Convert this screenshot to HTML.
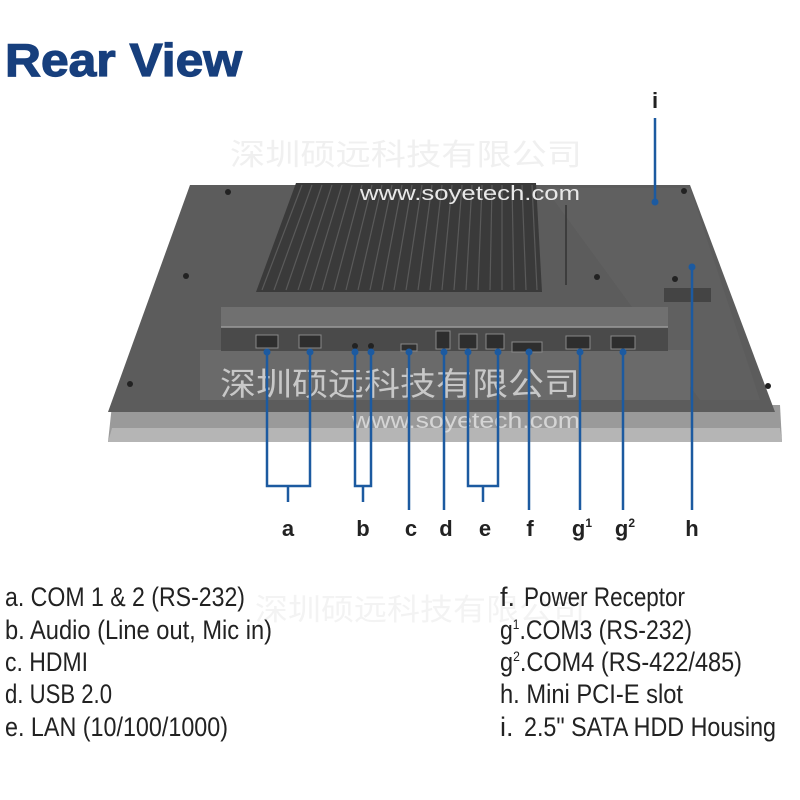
<!DOCTYPE html>
<html><head><meta charset="utf-8"><style>
html,body{margin:0;padding:0;background:#fff;width:800px;height:800px;overflow:hidden}
svg{display:block}
</style></head><body>
<svg width="800" height="800" viewBox="0 0 800 800" xmlns="http://www.w3.org/2000/svg" font-family="Liberation Sans, sans-serif">
<rect width="800" height="800" fill="#fff"/>
<text x="5" y="76" font-size="46" font-weight="bold" fill="#173f7d" stroke="#173f7d" stroke-width="1.2" textLength="237" lengthAdjust="spacingAndGlyphs">Rear View</text>

<!-- bezel -->
<polygon points="112,405 780,405 782,442 108,442" fill="#9a9a9a"/>
<polygon points="112,428 780,428 782,442 108,442" fill="#b5b5b5"/>
<!-- device body -->
<polygon points="190,185 690,185 775,412 108,412" fill="#5c5c5c"/>
<polygon points="545,188 690,188 760,400 700,400" fill="#606060"/>
<!-- heatsink -->
<polygon points="296,183 536,183 542,292 256,292" fill="#3a3a3a"/>
<g stroke="#5a5a5a" stroke-width="1.2">
<line x1="302" y1="185" x2="262" y2="290"/><line x1="312" y1="185" x2="274" y2="290"/><line x1="322" y1="185" x2="286" y2="290"/><line x1="332" y1="185" x2="298" y2="290"/><line x1="342" y1="185" x2="310" y2="290"/><line x1="352" y1="185" x2="322" y2="290"/><line x1="362" y1="185" x2="334" y2="290"/><line x1="372" y1="185" x2="346" y2="290"/><line x1="382" y1="185" x2="358" y2="290"/><line x1="392" y1="185" x2="370" y2="290"/><line x1="402" y1="185" x2="382" y2="290"/><line x1="412" y1="185" x2="394" y2="290"/><line x1="422" y1="185" x2="406" y2="290"/><line x1="432" y1="185" x2="418" y2="290"/><line x1="442" y1="185" x2="430" y2="290"/><line x1="452" y1="185" x2="442" y2="290"/><line x1="462" y1="185" x2="454" y2="290"/><line x1="472" y1="185" x2="466" y2="290"/><line x1="482" y1="185" x2="478" y2="290"/><line x1="492" y1="185" x2="490" y2="290"/><line x1="502" y1="185" x2="502" y2="290"/><line x1="512" y1="185" x2="514" y2="290"/><line x1="522" y1="185" x2="526" y2="290"/><line x1="532" y1="185" x2="537" y2="290"/>
</g>
<line x1="566" y1="205" x2="566" y2="285" stroke="#333" stroke-width="1.5"/>
<!-- lower recess -->
<polygon points="200,350 690,350 690,400 200,400" fill="#6a6a6a"/>
<!-- port panel -->
<rect x="221" y="307" width="447" height="20" fill="#707070"/>
<rect x="221" y="327" width="447" height="24" fill="#4a4a4a"/>
<line x1="221" y1="327" x2="668" y2="327" stroke="#999" stroke-width="1.5"/>
<g fill="#2e2e2e" stroke="#888" stroke-width="1">
<rect x="256" y="335" width="22" height="13"/><rect x="299" y="335" width="22" height="13"/>
<rect x="401" y="344" width="16" height="7"/>
<rect x="436" y="331" width="14" height="18"/>
<rect x="459" y="334" width="18" height="15"/><rect x="486" y="334" width="18" height="15"/>
<rect x="512" y="342" width="30" height="10"/>
<rect x="566" y="336" width="24" height="13"/><rect x="611" y="336" width="24" height="13"/>
</g>
<circle cx="355" cy="346" r="3" fill="#222"/><circle cx="371" cy="346" r="3" fill="#222"/>
<rect x="664" y="288" width="47" height="14" fill="#444"/>
<g fill="#222"><circle cx="228" cy="192" r="3"/><circle cx="684" cy="191" r="3"/><circle cx="186" cy="276" r="3"/><circle cx="130" cy="384" r="3"/><circle cx="768" cy="386" r="3"/><circle cx="597" cy="277" r="3"/><circle cx="675" cy="279" r="3"/></g>

<!-- watermarks -->
<text x="230" y="165" font-size="30" fill="#f0f0f0" font-family="Noto Sans CJK SC, sans-serif" textLength="352" lengthAdjust="spacingAndGlyphs">深圳硕远科技有限公司</text>
<text x="360" y="200" font-size="20" fill="#e8e8e8" textLength="220" lengthAdjust="spacingAndGlyphs">www.soyetech.com</text>
<text x="220" y="395" font-size="32" fill="#e0e0e0" opacity="0.8" font-family="Noto Sans CJK SC, sans-serif" textLength="360" lengthAdjust="spacingAndGlyphs">深圳硕远科技有限公司</text>
<text x="352" y="428" font-size="22" fill="#e0e0e0" opacity="0.85" textLength="228" lengthAdjust="spacingAndGlyphs">www.soyetech.com</text>
<text x="255" y="620" font-size="30" fill="#f3f3f3" font-family="Noto Sans CJK SC, sans-serif" textLength="330" lengthAdjust="spacingAndGlyphs">深圳硕远科技有限公司</text>

<!-- leader lines -->
<g stroke="#1c5aa0" stroke-width="2.5" fill="none">
<polyline points="267,352 267,486 310,486 310,352"/><line x1="288" y1="486" x2="288" y2="502"/>
<polyline points="355,352 355,486 371,486 371,352"/><line x1="363" y1="486" x2="363" y2="502"/>
<polyline points="468,352 468,486 498,486 498,352"/><line x1="483" y1="486" x2="483" y2="502"/>
<line x1="409" y1="352" x2="409" y2="510"/>
<line x1="444" y1="352" x2="444" y2="510"/>
<line x1="529" y1="352" x2="529" y2="510"/>
<line x1="580" y1="352" x2="580" y2="510"/>
<line x1="623" y1="352" x2="623" y2="510"/>
<line x1="692" y1="267" x2="692" y2="510"/>
<line x1="655" y1="118" x2="655" y2="202"/>
</g>
<g fill="#1c5aa0"><circle cx="267" cy="352" r="3.5"/><circle cx="310" cy="352" r="3.5"/><circle cx="355" cy="352" r="3.5"/><circle cx="371" cy="352" r="3.5"/><circle cx="409" cy="352" r="3.5"/><circle cx="444" cy="352" r="3.5"/><circle cx="468" cy="352" r="3.5"/><circle cx="498" cy="352" r="3.5"/><circle cx="529" cy="352" r="3.5"/><circle cx="580" cy="352" r="3.5"/><circle cx="623" cy="352" r="3.5"/><circle cx="692" cy="267" r="3.5"/><circle cx="655" cy="202" r="3.5"/></g>

<g font-size="22" font-weight="bold" fill="#222" text-anchor="middle">
<text x="288" y="536">a</text><text x="363" y="536">b</text><text x="411" y="536">c</text><text x="446" y="536">d</text><text x="485" y="536">e</text><text x="530" y="536">f</text>
<text x="582" y="536">g<tspan font-size="12" dy="-9">1</tspan></text>
<text x="625" y="536">g<tspan font-size="12" dy="-9">2</tspan></text>
<text x="692" y="536">h</text><text x="655" y="108">i</text>
</g>

<g font-size="27" fill="#222">
<text x="5" y="606" textLength="240" lengthAdjust="spacingAndGlyphs">a. COM 1 &amp; 2 (RS-232)</text>
<text x="5" y="639" textLength="267" lengthAdjust="spacingAndGlyphs">b. Audio (Line out, Mic in)</text>
<text x="5" y="671" textLength="83" lengthAdjust="spacingAndGlyphs">c. HDMI</text>
<text x="5" y="703" textLength="107" lengthAdjust="spacingAndGlyphs">d. USB 2.0</text>
<text x="5" y="736" textLength="223" lengthAdjust="spacingAndGlyphs">e. LAN (10/100/1000)</text>
<text x="500" y="606">f.</text>
<text x="524" y="606" textLength="161" lengthAdjust="spacingAndGlyphs">Power Receptor</text>
<text x="500" y="639" textLength="192" lengthAdjust="spacingAndGlyphs">g<tspan font-size="14" dy="-10">1</tspan><tspan dy="10">.COM3 (RS-232)</tspan></text>
<text x="500" y="671" textLength="242" lengthAdjust="spacingAndGlyphs">g<tspan font-size="14" dy="-10">2</tspan><tspan dy="10">.COM4 (RS-422/485)</tspan></text>
<text x="500" y="703" textLength="183" lengthAdjust="spacingAndGlyphs">h. Mini PCI-E slot</text>
<text x="500" y="736">i.</text>
<text x="524" y="736" textLength="252" lengthAdjust="spacingAndGlyphs">2.5" SATA HDD Housing</text>
</g>
</svg>
</body></html>
